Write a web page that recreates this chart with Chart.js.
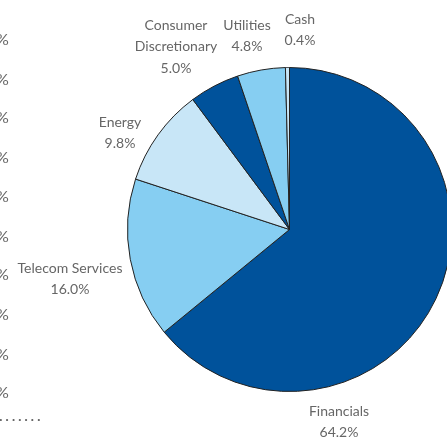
<!DOCTYPE html>
<html>
<head>
<meta charset="utf-8">
<script src="https://cdn.jsdelivr.net/npm/chart.js@4.4.1/dist/chart.umd.min.js"></script>
<style>
  html, body { margin: 0; padding: 0; background: #ffffff; overflow: hidden; width: 447px; height: 438px; }
  #wrap { position: absolute; left: 0; top: 0; width: 480px; height: 438px; }
  .frag { position: absolute; font-family: Lato, "Open Sans", sans-serif; font-size: 16px; color: #666666; line-height: 1; }
</style>
</head>
<body>
<div id="wrap"><canvas id="c" width="480" height="438"></canvas></div>
<div id="frags"></div>
<script>
// ---- data ----
const categories = ["Financials", "Telecom Services", "Energy", "Consumer Discretionary", "Utilities", "Cash"];
const weights = [64.2, 16.0, 9.8, 5.0, 4.8, 0.4];
const labelLines = [
  ["Financials", "64.2%"],
  ["Telecom Services", "16.0%"],
  ["Energy", "9.8%"],
  ["Consumer", "Discretionary", "5.0%"],
  ["Utilities", "4.8%"],
  ["Cash", "0.4%"]
];
// ---- styling / layout ----
const sliceColors = ["#00529B", "#86CEF2", "#C8E6F7", "#00529B", "#86CEF2", "#C8E6F7"];
// label anchor offsets from pie centre (first line centre)
const labelOffsets = [[49.5, 181.5], [-219.5, 38.5], [-169.5, -107.5], [-113.5, -204.5], [-42.5, -204.5], [10.5, -210.5]];
const lineGap = 21.5;
const textColor = "#666666";

// fragments of the neighbouring chart on the left edge
const frags = document.getElementById("frags");
const fragYs = [40, 80, 118, 158, 197, 237, 275, 315, 355, 393];
fragYs.forEach(y => {
  const d = document.createElement("div");
  d.className = "frag";
  d.textContent = "%";
  d.style.left = "-4px";
  d.style.top = (y - 9) + "px";
  frags.appendChild(d);
});
const dots = document.createElement("div");
dots.className = "frag";
dots.textContent = "· · · · · · ·";
dots.style.left = "-1px";
dots.style.top = "412px";
dots.style.fontSize = "14px";
dots.style.letterSpacing = "-0.45px";
frags.appendChild(dots);

const labelPlugin = {
  id: "sliceLabels",
  afterDraw(chart) {
    const ctx = chart.ctx;
    const a = chart.chartArea;
    const cx = (a.left + a.right) / 2, cy = (a.top + a.bottom) / 2;
    ctx.save();
    ctx.font = "14px Lato, 'Open Sans', sans-serif";
    ctx.fillStyle = textColor;
    ctx.textAlign = "center";
    ctx.textBaseline = "middle";
    labelLines.forEach((lines, i) => {
      const [dx, dy] = labelOffsets[i];
      lines.forEach((t, j) => ctx.fillText(t, cx + dx, cy + dy + j * lineGap));
    });
    ctx.restore();
  }
};

new Chart(document.getElementById("c"), {
  type: "pie",
  data: {
    labels: categories,
    datasets: [{
      data: weights,
      backgroundColor: sliceColors,
      borderColor: "#222222",
      borderWidth: 1
    }]
  },
  options: {
    responsive: false,
    animation: false,
    devicePixelRatio: 1,
    layout: { padding: { left: 127, top: 67, right: 28, bottom: 46 } },
    plugins: { legend: { display: false }, tooltip: { enabled: false } }
  },
  plugins: [labelPlugin]
});
</script>
</body>
</html>
